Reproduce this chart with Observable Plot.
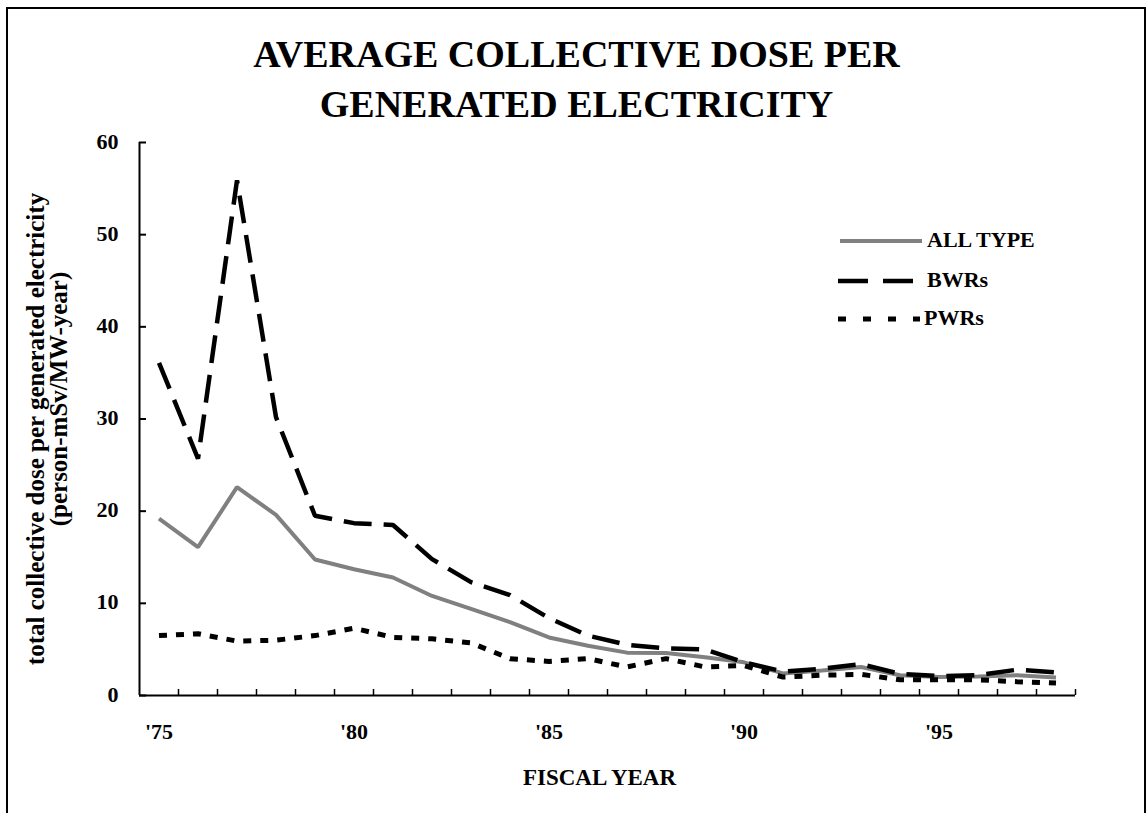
<!DOCTYPE html>
<html>
<head>
<meta charset="utf-8">
<script src="https://cdn.jsdelivr.net/npm/d3@7"></script>
<script src="https://cdn.jsdelivr.net/npm/@observablehq/plot@0.6"></script>
<style>
  body { margin: 0; background: #fff; }
  #wrap { position: relative; width: 1147px; height: 813px; overflow: hidden; background: #fff;
          font-family: "Liberation Serif", "Times New Roman", serif; font-weight: bold; color: #000; }
  #border { position: absolute; left: 6px; top: 7px; width: 1136px; height: 900px; border: 2px solid #000;
            z-index: 4; pointer-events: none; }
  #title { position: absolute; left: 0; top: 29px; width: 1153px; text-align: center; font-size: 38px;
           line-height: 50px; z-index: 3; }
  #chart { position: absolute; left: 0; top: 0; z-index: 1; }
  #legend { position: absolute; left: 0; top: 0; z-index: 2; pointer-events: none; }
</style>
</head>
<body>
<div id="wrap">
  <div id="border"></div>
  <div id="title">AVERAGE COLLECTIVE DOSE PER<br>GENERATED ELECTRICITY</div>
  <div id="chart"></div>
  <svg id="legend" width="1147" height="813"></svg>
</div>
<script>
// ---- data ----
const years = [1975, 1976, 1977, 1978, 1979, 1980, 1981, 1982, 1983, 1984, 1985, 1986,
               1987, 1988, 1989, 1990, 1991, 1992, 1993, 1994, 1995, 1996, 1997, 1998];
const allType = [19.2, 16.1, 22.6, 19.6, 14.75, 13.7, 12.8, 10.8, 9.4, 7.95, 6.3, 5.4,
                 4.65, 4.6, 4.15, 3.6, 2.4, 2.7, 3.1, 2.2, 2.0, 2.05, 2.2, 1.95];
const bwrs = [36.1, 25.7, 55.9, 30.2, 19.5, 18.7, 18.5, 14.8, 12.3, 10.9, 8.4, 6.5,
              5.5, 5.1, 5.0, 3.6, 2.6, 2.9, 3.4, 2.35, 2.1, 2.2, 2.8, 2.5];
const pwrs = [6.5, 6.7, 5.9, 6.0, 6.5, 7.3, 6.3, 6.15, 5.7, 4.0, 3.7, 4.0,
              3.1, 4.0, 3.1, 3.25, 2.0, 2.2, 2.3, 1.7, 1.7, 1.7, 1.5, 1.35];
const seriesNames = ["ALL TYPE", "BWRs", "PWRs"];
const yTicks = [0, 10, 20, 30, 40, 50, 60];
const xLabelYears = [1975, 1980, 1985, 1990, 1995];
const xDomain = [1974.5, 1998.5];
const categoryBoundaries = years.map(y => y + 0.5);
const yLabelLines = ["total collective dose per generated electricity", "(person-mSv/MW-year)"];
const xLabel = "FISCAL YEAR";

// ---- styles ----
const fam = '"Liberation Serif", "Times New Roman", serif';
const styles = {
  "ALL TYPE": {stroke: "#808080", strokeWidth: 4, strokeDasharray: null},
  "BWRs": {stroke: "#000", strokeWidth: 4.5, strokeDasharray: "28,12"},
  "PWRs": {stroke: "#000", strokeWidth: 5, strokeDasharray: "8,9"}
};
const seriesData = {"ALL TYPE": allType, "BWRs": bwrs, "PWRs": pwrs};

const W = 1147, H = 813, mL = 139, mR = 72, mT = 142, mB = 118;
const frameW = W - mL - mR, frameH = H - mT - mB;

const chart = Plot.plot({
  width: W, height: H,
  marginLeft: mL, marginRight: mR, marginTop: mT, marginBottom: mB,
  style: {fontFamily: fam, fontWeight: "bold", background: "transparent", color: "#000", overflow: "visible"},
  x: {type: "linear", domain: xDomain},
  y: {domain: [yTicks[0], yTicks[yTicks.length - 1]]},
  marks: [
    Plot.axisY({ticks: yTicks, tickSize: 0, tickPadding: 21, fontSize: 22, label: null, dy: -1}),
    Plot.axisX({ticks: xLabelYears, tickSize: 0, tickPadding: 28, fontSize: 22, label: null,
                tickFormat: d => "'" + String(d).slice(2)}),
    Plot.tickY(yTicks, {y: d => d, stroke: "#000", strokeWidth: 2, insetRight: frameW - 7}),
    Plot.tickX(categoryBoundaries, {x: d => d, stroke: "#000", strokeWidth: 1.5, insetTop: frameH - 6}),
    ...seriesNames.map(name => Plot.line(years, {
      x: d => d, y: (d, i) => seriesData[name][i],
      stroke: styles[name].stroke, strokeWidth: styles[name].strokeWidth,
      strokeDasharray: styles[name].strokeDasharray, strokeLinejoin: "miter", strokeLinecap: "butt"
    })),
    Plot.ruleY([yTicks[0]], {stroke: "#000", strokeWidth: 2}),
    Plot.ruleX([xDomain[0]], {stroke: "#000", strokeWidth: 2}),
    Plot.text([yLabelLines[0]], {text: d => d, frameAnchor: "left", textAnchor: "middle", rotate: -90,
                                 dx: -104, dy: 10, fontSize: 25}),
    Plot.text([yLabelLines[1]], {text: d => d, frameAnchor: "left", textAnchor: "middle", rotate: -90,
                                 dx: -81, dy: -20, fontSize: 25}),
    Plot.text([xLabel], {text: d => d, frameAnchor: "bottom", dx: -8, dy: 89, fontSize: 23})
  ]
});
document.getElementById("chart").appendChild(chart);

// ---- legend ----
const leg = d3.select("#legend");
const legendRows = [
  {name: "ALL TYPE", x1: 840, x2: 922, y: 241, tx: 927, ty: 247, dash: null},
  {name: "BWRs", x1: 838, x2: 913, y: 281, tx: 927, ty: 287, dash: "30,15"},
  {name: "PWRs", x1: 838, x2: 920, y: 319, tx: 924, ty: 325, dash: "8,17"}
];
legendRows.forEach(r => {
  const s = styles[r.name];
  leg.append("line").attr("x1", r.x1).attr("x2", r.x2).attr("y1", r.y).attr("y2", r.y)
    .attr("stroke", s.stroke).attr("stroke-width", s.strokeWidth)
    .attr("stroke-dasharray", r.dash);
  leg.append("text").attr("x", r.tx).attr("y", r.ty).attr("font-family", fam).attr("font-weight", "bold")
    .attr("font-size", 22).attr("fill", "#000").text(r.name);
});
</script>
</body>
</html>
